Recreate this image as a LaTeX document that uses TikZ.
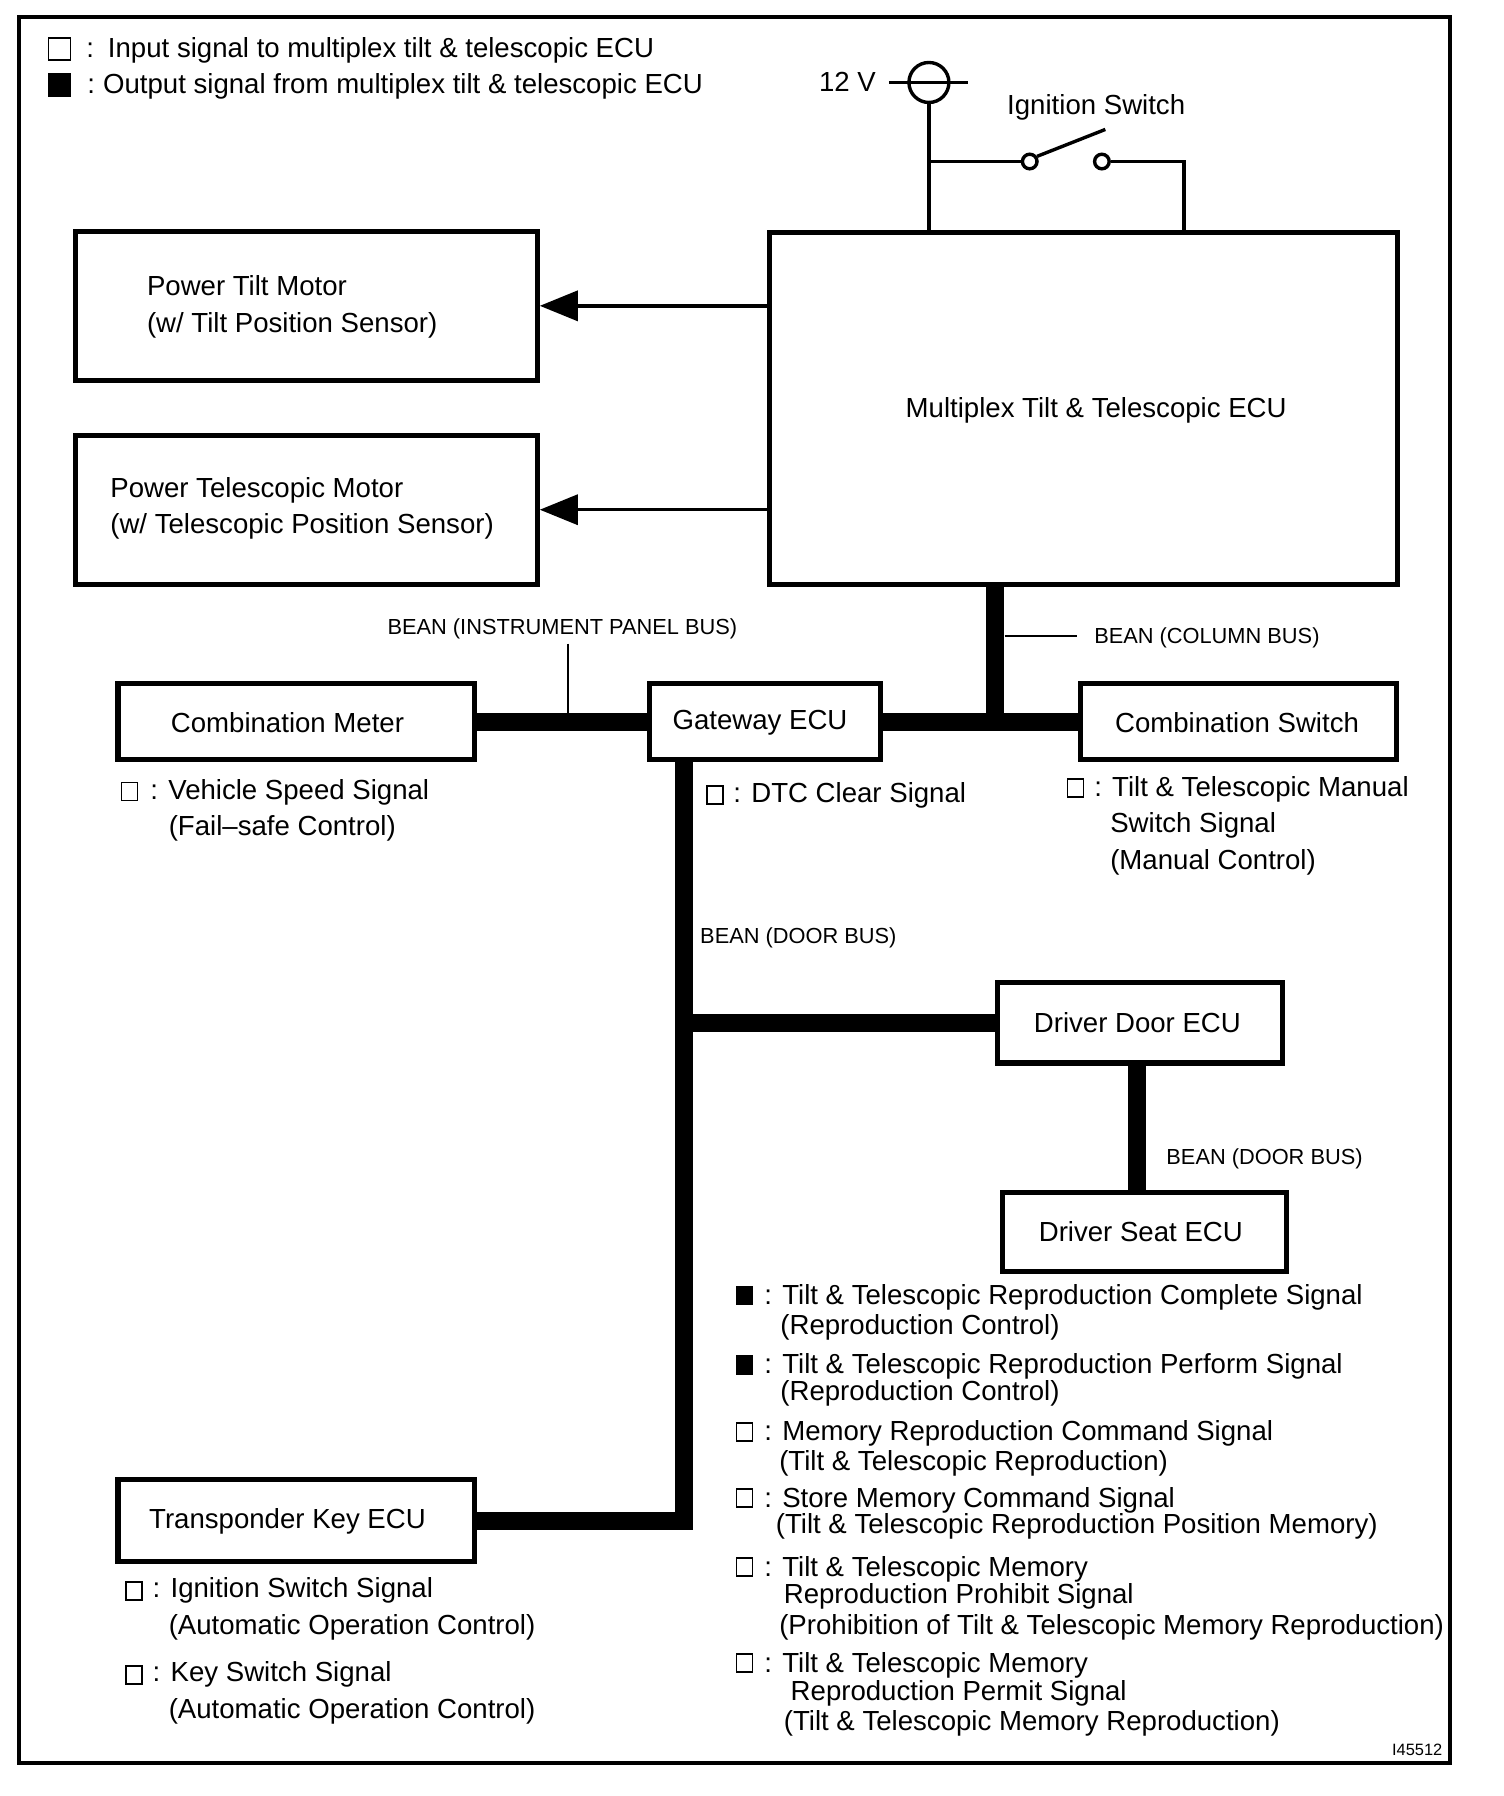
\documentclass[tikz,border=0pt]{standalone}
\usepackage{fontspec}
\setmainfont{Liberation Sans}
\usetikzlibrary{arrows.meta,fit}
\begin{document}
\begin{tikzpicture}[x=0.57273pt, y=-0.57273pt,
  box/.style={draw, line width=2.6pt, inner sep=0pt},
  lbl/.style={font=\fontsize{13.8}{16}\selectfont, inner sep=0pt, anchor=base west},
  clbl/.style={font=\fontsize{13.8}{16}\selectfont, inner sep=0pt},
  small/.style={font=\fontsize{10.9}{13}\selectfont, inner sep=0pt, anchor=base west},
  bus/.style={line width=9pt, line join=miter},
  wire/.style={line width=1.7pt},
  tick/.style={line width=0.8pt},
  arr/.style={line width=1.7pt, -{Triangle[length=19pt, width=15pt]}},
  isq/.style={draw, line width=0.9pt, minimum width=8pt, minimum height=9pt, inner sep=0pt},
  osq/.style={isq, fill=black},
]
\useasboundingbox (0,0) rectangle (1313,1568);
\draw[line width=2pt] (17,15) rectangle (1266,1539);

% legend
\node[isq, minimum width=11pt, minimum height=11pt] (lg1) at (52,42.5) {};
\node[lbl] (lgt1) at (75,50) {:\hspace{7pt}Input signal to multiplex tilt \& telescopic ECU};
\node[osq, minimum width=11pt, minimum height=11pt] (lg2) at (52,74) {};
\node[lbl] (lgt2) at (76,82) {:\hspace{4pt}Output signal from multiplex tilt \& telescopic ECU};

% power supply and ignition switch
\node[box, fit={(672,203) (1220,510)}] (ecu) {};
\node[clbl] (ecut) at (957,358) {Multiplex Tilt \& Telescopic ECU};
\node[lbl, anchor=base east] (v12) at (765,80) {12 V};
\node[circle, draw, wire, minimum size=20pt, inner sep=0pt] (bat) at (811,72) {};
\coordinate (batl) at (776,72);
\coordinate (batr) at (845,72);
\draw[wire] (batl) -- (batr);
\draw[wire] (bat.south) -- (bat.south |- ecu.north);
\coordinate (j1) at (811,141);
\node[circle, draw, wire, minimum size=7.3pt, inner sep=0pt] (s1) at (899,141) {};
\node[circle, draw, wire, minimum size=7.3pt, inner sep=0pt] (s2) at (962,141) {};
\coordinate (j2) at (1033.6,141);
\coordinate (lev) at (965,113);
\draw[wire] (j1) -- (s1.west);
\draw[wire] (s2.east) -- (j2) -- (j2 |- ecu.north);
\draw[wire] (s1.35) -- (lev);
\node[lbl] (ign) at (879,100) {Ignition Switch};

% motors
\node[box, fit={(66,202) (469,332)}] (ptm) {};
\node[lbl] (ptm1) at (128,258) {Power Tilt Motor};
\node[lbl] (ptm2) at (128,290) {(w/ Tilt Position Sensor)};
\node[box, fit={(66,380) (469,510)}] (ptel) {};
\node[lbl] (ptel1) at (96,434) {Power Telescopic Motor};
\node[lbl] (ptel2) at (96,466) {(w/ Telescopic Position Sensor)};
\draw[arr] (ecu.west |- ptm.east) -- (ptm.east);
\draw[arr] (ecu.west |- ptel.east) -- (ptel.east);

% middle row
\node[box, fit={(103,597) (414,663)}] (cm) {};
\node[clbl] (cmt) at (251,631) {Combination Meter};
\node[box, fit={(567,597) (769,663)}] (gw) {};
\node[clbl] (gwt) at (663.5,631) {Gateway ECU};
\node[box, fit={(943,597) (1219,663)}] (cs) {};
\node[clbl] (cst) at (1080,631) {Combination Switch};
\draw[bus] (cm.east) -- (gw.west);
\draw[bus] (gw.east) -- (cs.west);
\coordinate (colj) at (869,630);
\draw[bus] (ecu.south -| colj) -- (colj);

\node[small] (bcol) at (955,562) {BEAN (COLUMN BUS)};
\coordinate (cbt) at (877,555);
\coordinate (cbe) at (940,555);
\draw[tick] (cbt) -- (cbe);
\node[small, anchor=base] (bip) at (491,554) {BEAN (INSTRUMENT PANEL BUS)};
\coordinate (ipt) at (496,562);
\coordinate (ipb) at (496,623);
\draw[tick] (ipt) -- (ipb);

\node[isq] (q1) at (113,691) {};
\node[lbl] (q1a) at (131,698) {: Vehicle Speed Signal};
\node[lbl] (q1b) at (147,729) {(Fail–safe Control)};
\node[isq] (q2) at (624,694) {};
\node[lbl] (q2a) at (640,701) {: DTC Clear Signal};
\node[isq] (q3) at (939,688) {};
\node[lbl] (q3a) at (955,695) {: Tilt \& Telescopic Manual};
\node[lbl] (q3b) at (969,727) {Switch Signal};
\node[lbl] (q3c) at (969,759) {(Manual Control)};

% door bus
\node[box, fit={(871,858) (1120,928)}] (dd) {};
\node[clbl] (ddt) at (993,893) {Driver Door ECU};
\node[box, fit={(875,1041) (1123,1110)}] (ds) {};
\node[clbl] (dst) at (996,1075) {Driver Seat ECU};
\node[box, fit={(103,1292) (414,1363)}] (tk) {};
\node[clbl] (tkt) at (251,1328) {Transponder Key ECU};
\coordinate (dj) at (597,893);
\draw[bus] (gw.south -| dj) -- (dj |- tk.east) -- (tk.east);
\draw[bus] (dj) -- (dd.west);
\coordinate (dsx) at (993,1000);
\draw[bus] (dd.south -| dsx) -- (ds.north -| dsx);
\node[small] (bd1) at (611,824) {BEAN (DOOR BUS)};
\node[small] (bd2) at (1018,1017) {BEAN (DOOR BUS)};

% transponder signals
\node[isq] (q4) at (117,1389) {};
\node[lbl] (q4a) at (133,1395) {: Ignition Switch Signal};
\node[lbl] (q4b) at (147,1427) {(Automatic Operation Control)};
\node[isq] (q5) at (117,1462) {};
\node[lbl] (q5a) at (133,1468) {: Key Switch Signal};
\node[lbl] (q5b) at (147,1500) {(Automatic Operation Control)};

% driver seat signals
\node[osq] (r1) at (650,1131) {};
\node[lbl] (r1a) at (667,1139) {: Tilt \& Telescopic Reproduction Complete Signal};
\node[lbl] (r1b) at (681,1165) {(Reproduction Control)};
\node[osq] (r2) at (650,1192) {};
\node[lbl] (r2a) at (667,1199) {: Tilt \& Telescopic Reproduction Perform Signal};
\node[lbl] (r2b) at (681,1223) {(Reproduction Control)};
\node[isq] (r3) at (650,1250) {};
\node[lbl] (r3a) at (667,1258) {: Memory Reproduction Command Signal};
\node[lbl] (r3b) at (680,1284) {(Tilt \& Telescopic Reproduction)};
\node[isq] (r4) at (650,1308) {};
\node[lbl] (r4a) at (667,1316) {: Store Memory Command Signal};
\node[lbl] (r4b) at (677,1339) {(Tilt \& Telescopic Reproduction Position Memory)};
\node[isq] (r5) at (650,1368) {};
\node[lbl] (r5a) at (667,1376) {: Tilt \& Telescopic Memory};
\node[lbl] (r5b) at (684,1400) {Reproduction Prohibit Signal};
\node[lbl] (r5c) at (680,1427) {(Prohibition of Tilt \& Telescopic Memory Reproduction)};
\node[isq] (r6) at (650,1452) {};
\node[lbl] (r6a) at (667,1460) {: Tilt \& Telescopic Memory};
\node[lbl] (r6b) at (690,1485) {Reproduction Permit Signal};
\node[lbl] (r6c) at (684,1511) {(Tilt \& Telescopic Memory Reproduction)};

\node[font=\fontsize{8.2}{10}\selectfont, inner sep=0pt, anchor=base east] (code) at (1259.5,1533) {I45512};
\end{tikzpicture}
\end{document}
